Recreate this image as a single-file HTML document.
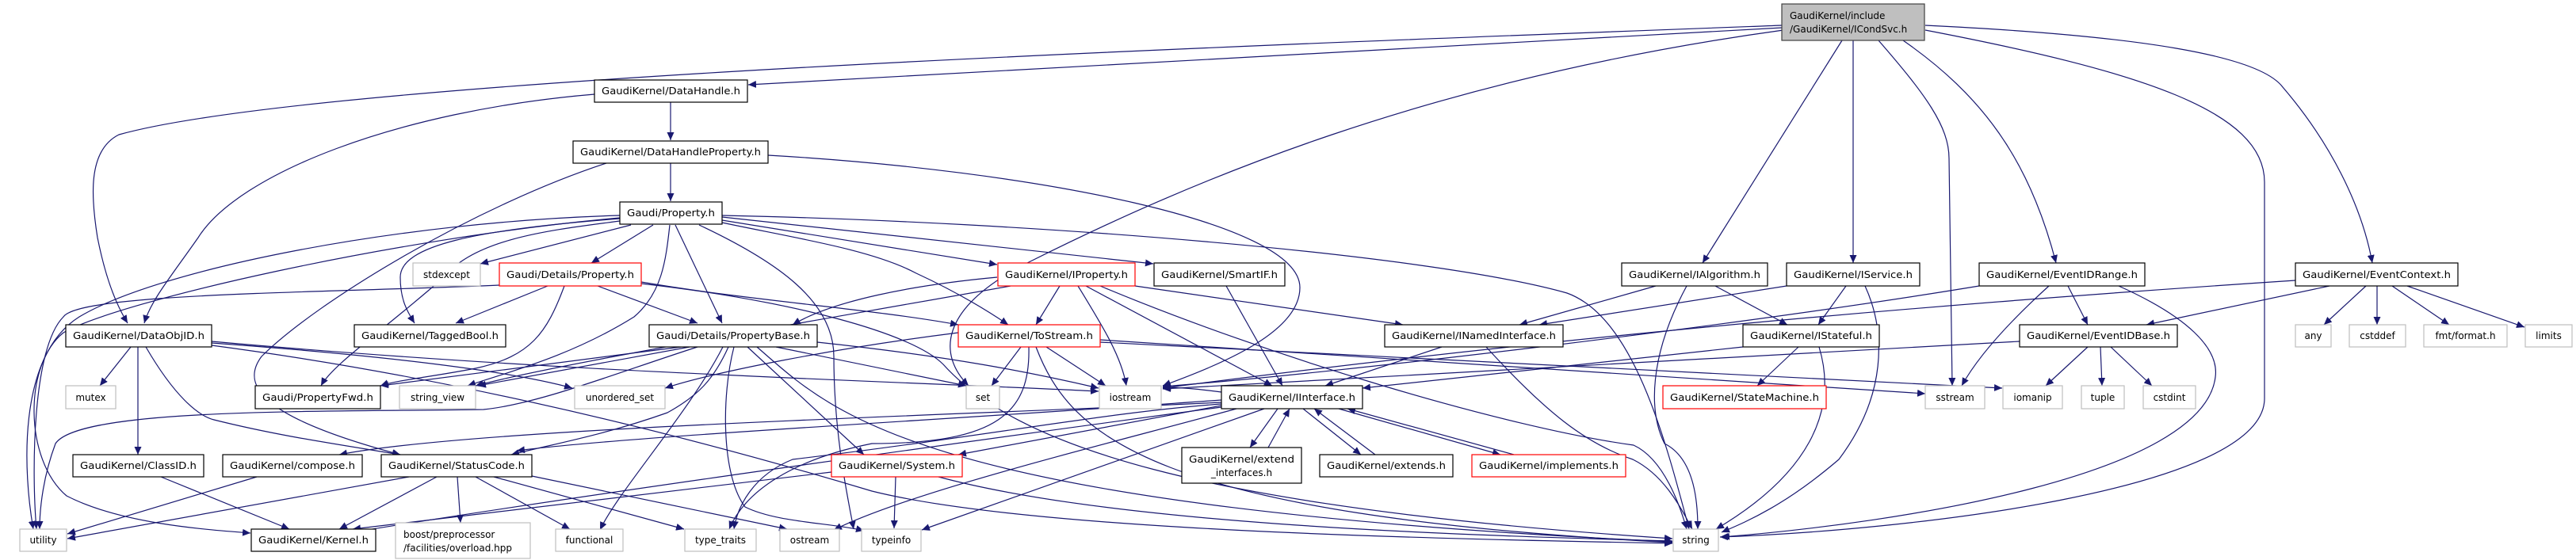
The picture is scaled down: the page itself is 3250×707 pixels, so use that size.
<!DOCTYPE html>
<html><head><meta charset="utf-8"><style>
html,body{margin:0;padding:0;background:#fff;}
svg{display:block;}
text{font-family:"DejaVu Sans","Liberation Sans",sans-serif;font-size:12px;fill:#000;}
.b{fill:#fff;stroke:#000;stroke-width:1.2;}
.r{fill:#fff;stroke:#ff0000;stroke-width:1.2;}
.g{fill:#fff;stroke:#bfbfbf;stroke-width:1.2;}
.e path{fill:none;stroke:#191970;stroke-width:1.2;}
</style></head><body>
<svg width="3250" height="707" viewBox="0 0 3250 707" xmlns="http://www.w3.org/2000/svg">
<defs><marker id="a" markerWidth="11" markerHeight="9" refX="10" refY="4.5" orient="auto" markerUnits="userSpaceOnUse"><path d="M0,0 L10,4.5 L0,9 z" fill="#191970"/></marker></defs>
<g class="e" marker-end="url(#a)">
<path marker-end="url(#a)" d="M2248,32 C1500,60 400,100 150,170 C110,190 115,250 123,300 C135,360 150,390 161,408"/>
<path marker-end="url(#a)" d="M2248,35 L944,107"/>
<path marker-end="url(#a)" d="M2250,38 C1800,100 1500,230 1300,330 C1180,390 1185,450 1222,487"/>
<path marker-end="url(#a)" d="M2324,51 L2148,332"/>
<path marker-end="url(#a)" d="M2338,51 L2338,332"/>
<path marker-end="url(#a)" d="M2370,51 C2430,120 2459,160 2459,200 L2463,487"/>
<path marker-end="url(#a)" d="M2401,51 C2500,120 2560,200 2594,332"/>
<path marker-end="url(#a)" d="M2429,38 C2700,90 2857,140 2857,230 L2857,503 C2857,620 2400,670 2170,678"/>
<path marker-end="url(#a)" d="M2429,32 C2700,45 2850,70 2880,110 C2940,180 2980,260 2993,332"/>
<path marker-end="url(#a)" d="M846,128 L846,177"/>
<path marker-end="url(#a)" d="M750,119 C500,140 300,220 250,300 C215,350 190,380 182,408"/>
<path marker-end="url(#a)" d="M846,206 L846,254"/>
<path marker-end="url(#a)" d="M765,206 C600,260 400,380 330,450 C300,490 340,530 505,574"/>
<path marker-end="url(#a)" d="M969,196 C1300,215 1640,280 1640,363 C1640,420 1540,460 1467,487"/>
<path marker-end="url(#a)" d="M796,284 L606,333"/>
<path marker-end="url(#a)" d="M824,284 L746,332"/>
<path marker-end="url(#a)" d="M782,276 C600,290 505,310 505,350 C505,380 515,395 523,408"/>
<path marker-end="url(#a)" d="M782,279 C700,290 600,300 560,350 C480,420 420,460 405,487"/>
<path marker-end="url(#a)" d="M845,284 C840,330 835,370 800,400 C720,450 640,470 590,487"/>
<path marker-end="url(#a)" d="M852,284 L911,408"/>
<path marker-end="url(#a)" d="M882,284 C980,330 1052,380 1052,450 C1052,550 1070,630 1077,668"/>
<path marker-end="url(#a)" d="M782,272 C500,280 200,340 100,400 C20,450 30,600 42,668"/>
<path marker-end="url(#a)" d="M782,275 C500,300 150,380 80,420 C30,460 30,580 84,626 C150,660 250,668 316,673"/>
<path marker-end="url(#a)" d="M911,278 L1258,334"/>
<path marker-end="url(#a)" d="M911,274 L1455,333"/>
<path marker-end="url(#a)" d="M911,281 C1000,300 1100,315 1156,345 C1210,370 1250,395 1272,410"/>
<path marker-end="url(#a)" d="M911,272 C1300,280 1800,320 1977,370 C2060,400 2100,550 2131,668"/>
<path marker-end="url(#a)" d="M691,361 L575,408"/>
<path marker-end="url(#a)" d="M754,361 L880,408"/>
<path marker-end="url(#a)" d="M712,361 C690,420 670,450 600,465 C550,475 500,480 480,487"/>
<path marker-end="url(#a)" d="M630,360 C400,370 100,370 80,400 C40,440 40,600 46,668"/>
<path marker-end="url(#a)" d="M809,356 C950,380 1100,390 1209,410"/>
<path marker-end="url(#a)" d="M809,358 C1000,380 1150,420 1190,460 C1280,560 1500,640 2110,680"/>
<path marker-end="url(#a)" d="M859,438 L480,487"/>
<path marker-end="url(#a)" d="M870,438 L603,487"/>
<path marker-end="url(#a)" d="M880,438 C780,470 680,510 610,517 C400,520 100,515 70,560 C55,600 50,640 50,668"/>
<path marker-end="url(#a)" d="M919,438 C900,480 880,500 842,521 C760,550 700,560 645,574"/>
<path marker-end="url(#a)" d="M912,438 C870,520 780,620 757,669"/>
<path marker-end="url(#a)" d="M926,438 C910,500 910,600 940,640 C980,660 1050,660 1090,670"/>
<path marker-end="url(#a)" d="M943,438 L1090,574"/>
<path marker-end="url(#a)" d="M979,438 L1219,487"/>
<path marker-end="url(#a)" d="M1031,432 C1200,450 1300,470 1386,490"/>
<path marker-end="url(#a)" d="M955,438 C1050,520 1150,640 2110,684"/>
<path marker-end="url(#a)" d="M1288,438 L1251,487"/>
<path marker-end="url(#a)" d="M1320,438 L1395,487"/>
<path marker-end="url(#a)" d="M1209,420 C1050,440 900,470 839,490"/>
<path marker-end="url(#a)" d="M1388,429 L2429,497"/>
<path marker-end="url(#a)" d="M1388,432 L2526,490"/>
<path marker-end="url(#a)" d="M1307,438 C1350,550 1450,650 2110,685"/>
<path marker-end="url(#a)" d="M1298,438 C1300,520 1260,560 1100,560 C1000,580 940,620 920,668"/>
<path marker-end="url(#a)" d="M165,438 L126,487"/>
<path marker-end="url(#a)" d="M174,438 L174,574"/>
<path marker-end="url(#a)" d="M184,438 C220,500 250,525 270,530 C350,550 420,560 505,574"/>
<path marker-end="url(#a)" d="M267,433 C500,450 650,470 722,490"/>
<path marker-end="url(#a)" d="M267,431 C700,470 1100,480 1386,494"/>
<path marker-end="url(#a)" d="M267,436 C600,480 900,560 1100,620 C1300,670 1800,680 2110,686"/>
<path marker-end="url(#a)" d="M203,602 L365,668"/>
<path marker-end="url(#a)" d="M324,602 L85,674"/>
<path marker-end="url(#a)" d="M516,602 L85,680"/>
<path marker-end="url(#a)" d="M551,602 L428,668"/>
<path marker-end="url(#a)" d="M577,602 L581,660"/>
<path marker-end="url(#a)" d="M600,602 L719,668"/>
<path marker-end="url(#a)" d="M623,602 L863,668"/>
<path marker-end="url(#a)" d="M671,601 L993,668"/>
<path marker-end="url(#a)" d="M1049,596 L445,668"/>
<path marker-end="url(#a)" d="M1130,602 L1128,667"/>
<path marker-end="url(#a)" d="M1184,602 C1400,660 1800,675 2110,683"/>
<path marker-end="url(#a)" d="M1337,361 L1307,410"/>
<path marker-end="url(#a)" d="M1360,361 C1390,410 1415,450 1421,487"/>
<path marker-end="url(#a)" d="M1370,361 L1605,487"/>
<path marker-end="url(#a)" d="M1432,361 L1770,410"/>
<path marker-end="url(#a)" d="M1388,361 C1600,450 1900,540 2061,562 C2100,580 2120,640 2128,668"/>
<path marker-end="url(#a)" d="M1258,350 C1150,360 1050,380 1000,410"/>
<path marker-end="url(#a)" d="M1275,361 C1000,410 700,460 600,487"/>
<path marker-end="url(#a)" d="M1547,361 L1618,487"/>
<path marker-end="url(#a)" d="M1819,438 L1672,487"/>
<path marker-end="url(#a)" d="M1875,438 C1950,520 2000,560 2060,580 C2100,600 2120,640 2135,668"/>
<path marker-end="url(#a)" d="M2089,361 L1917,410"/>
<path marker-end="url(#a)" d="M2164,361 L2255,410"/>
<path marker-end="url(#a)" d="M2128,361 C2080,450 2080,520 2100,560 C2140,580 2142,640 2142,668"/>
<path marker-end="url(#a)" d="M2254,361 L1942,410"/>
<path marker-end="url(#a)" d="M2329,361 L2294,410"/>
<path marker-end="url(#a)" d="M2353,361 C2380,420 2380,500 2320,580 C2250,640 2200,660 2172,672"/>
<path marker-end="url(#a)" d="M2199,438 L1719,490"/>
<path marker-end="url(#a)" d="M2269,438 L2217,487"/>
<path marker-end="url(#a)" d="M2295,438 C2320,520 2280,600 2165,668"/>
<path marker-end="url(#a)" d="M2497,361 C2200,410 1700,470 1467,488"/>
<path marker-end="url(#a)" d="M2585,361 C2520,420 2490,460 2475,487"/>
<path marker-end="url(#a)" d="M2609,361 L2634,410"/>
<path marker-end="url(#a)" d="M2673,361 C2760,400 2800,440 2795,476 C2780,600 2400,660 2172,678"/>
<path marker-end="url(#a)" d="M2896,354 C2500,380 2000,420 1467,490"/>
<path marker-end="url(#a)" d="M2939,361 L2708,410"/>
<path marker-end="url(#a)" d="M2985,361 L2932,410"/>
<path marker-end="url(#a)" d="M2999,361 L2999,410"/>
<path marker-end="url(#a)" d="M3018,361 L3090,410"/>
<path marker-end="url(#a)" d="M3037,361 L3185,413"/>
<path marker-end="url(#a)" d="M2548,431 L1467,491"/>
<path marker-end="url(#a)" d="M2634,438 L2581,487"/>
<path marker-end="url(#a)" d="M2650,438 L2652,487"/>
<path marker-end="url(#a)" d="M2663,438 L2715,487"/>
<path marker-end="url(#a)" d="M1612,516 L1577,565"/>
<path marker-end="url(#a)" d="M1600,565 L1627,516"/>
<path marker-end="url(#a)" d="M1644,516 L1717,574"/>
<path marker-end="url(#a)" d="M1735,574 L1658,516"/>
<path marker-end="url(#a)" d="M1689,516 L1893,574"/>
<path marker-end="url(#a)" d="M1910,574 L1700,516"/>
<path marker-end="url(#a)" d="M1595,516 L1163,669"/>
<path marker-end="url(#a)" d="M1541,512 L1209,574"/>
<path marker-end="url(#a)" d="M1541,505 C1200,530 800,550 652,569"/>
<path marker-end="url(#a)" d="M1541,508 C1200,525 600,540 428,574"/>
<path marker-end="url(#a)" d="M1541,514 C1200,560 700,630 445,672"/>
<path marker-end="url(#a)" d="M1541,510 C1400,520 1250,550 1000,580 C950,600 930,640 926,668"/>
<path marker-end="url(#a)" d="M1560,516 C1400,560 1150,620 1052,669"/>
<path marker-end="url(#a)" d="M1541,495 C1510,491 1490,489 1467,489"/>
</g>
<!-- root -->
<rect x="2248" y="5" width="180" height="46" fill="#bfbfbf" stroke="#404040" stroke-width="1.2"/>
<text x="2258" y="24">GaudiKernel/include</text>
<text x="2258" y="41">/GaudiKernel/ICondSvc.h</text>
<!-- black nodes -->
<rect class="b" x="750" y="101" width="193" height="28"/><text x="846.5" y="119" text-anchor="middle" textLength="175" lengthAdjust="spacingAndGlyphs">GaudiKernel/DataHandle.h</text>
<rect class="b" x="723" y="178" width="246" height="28"/><text x="846" y="196" text-anchor="middle" textLength="228" lengthAdjust="spacingAndGlyphs">GaudiKernel/DataHandleProperty.h</text>
<rect class="b" x="782" y="255" width="129" height="28"/><text x="846.5" y="273" text-anchor="middle" textLength="111" lengthAdjust="spacingAndGlyphs">Gaudi/Property.h</text>
<rect class="b" x="83" y="410" width="184" height="28"/><text x="175" y="428" text-anchor="middle" textLength="166" lengthAdjust="spacingAndGlyphs">GaudiKernel/DataObjID.h</text>
<rect class="b" x="447" y="410" width="191" height="28"/><text x="542.5" y="428" text-anchor="middle" textLength="173" lengthAdjust="spacingAndGlyphs">GaudiKernel/TaggedBool.h</text>
<rect class="b" x="819" y="410" width="212" height="28"/><text x="925" y="428" text-anchor="middle" textLength="194" lengthAdjust="spacingAndGlyphs">Gaudi/Details/PropertyBase.h</text>
<rect class="b" x="322" y="487" width="158" height="29"/><text x="401" y="506" text-anchor="middle" textLength="140" lengthAdjust="spacingAndGlyphs">Gaudi/PropertyFwd.h</text>
<rect class="b" x="92" y="574" width="165" height="28"/><text x="174.5" y="592" text-anchor="middle" textLength="147" lengthAdjust="spacingAndGlyphs">GaudiKernel/ClassID.h</text>
<rect class="b" x="281" y="574" width="176" height="28"/><text x="369" y="592" text-anchor="middle" textLength="158" lengthAdjust="spacingAndGlyphs">GaudiKernel/compose.h</text>
<rect class="b" x="481" y="574" width="190" height="28"/><text x="576" y="592" text-anchor="middle" textLength="172" lengthAdjust="spacingAndGlyphs">GaudiKernel/StatusCode.h</text>
<rect class="b" x="317" y="668" width="157" height="28"/><text x="395.5" y="686" text-anchor="middle" textLength="139" lengthAdjust="spacingAndGlyphs">GaudiKernel/Kernel.h</text>
<rect class="b" x="1456" y="332" width="165" height="29"/><text x="1538.5" y="351" text-anchor="middle" textLength="147" lengthAdjust="spacingAndGlyphs">GaudiKernel/SmartIF.h</text>
<rect class="b" x="2046" y="332" width="184" height="29"/><text x="2138" y="351" text-anchor="middle" textLength="166" lengthAdjust="spacingAndGlyphs">GaudiKernel/IAlgorithm.h</text>
<rect class="b" x="1747" y="410" width="225" height="28"/><text x="1859.5" y="428" text-anchor="middle" textLength="207" lengthAdjust="spacingAndGlyphs">GaudiKernel/INamedInterface.h</text>
<rect class="b" x="1541" y="487" width="178" height="29"/><text x="1630" y="506" text-anchor="middle" textLength="160" lengthAdjust="spacingAndGlyphs">GaudiKernel/IInterface.h</text>
<rect class="b" x="1491" y="565" width="151" height="45"/><text x="1566.5" y="584" text-anchor="middle" textLength="133" lengthAdjust="spacingAndGlyphs">GaudiKernel/extend</text><text x="1566.5" y="601" text-anchor="middle">_interfaces.h</text>
<rect class="b" x="1665" y="574" width="168" height="28"/><text x="1749" y="592" text-anchor="middle" textLength="150" lengthAdjust="spacingAndGlyphs">GaudiKernel/extends.h</text>
<rect class="b" x="2254" y="332" width="168" height="29"/><text x="2338" y="351" text-anchor="middle" textLength="150" lengthAdjust="spacingAndGlyphs">GaudiKernel/IService.h</text>
<rect class="b" x="2497" y="332" width="209" height="29"/><text x="2601.5" y="351" text-anchor="middle" textLength="191" lengthAdjust="spacingAndGlyphs">GaudiKernel/EventIDRange.h</text>
<rect class="b" x="2896" y="332" width="205" height="29"/><text x="2998.5" y="351" text-anchor="middle" textLength="187" lengthAdjust="spacingAndGlyphs">GaudiKernel/EventContext.h</text>
<rect class="b" x="2199" y="410" width="172" height="28"/><text x="2285" y="428" text-anchor="middle" textLength="154" lengthAdjust="spacingAndGlyphs">GaudiKernel/IStateful.h</text>
<rect class="b" x="2548" y="410" width="199" height="28"/><text x="2647.5" y="428" text-anchor="middle" textLength="181" lengthAdjust="spacingAndGlyphs">GaudiKernel/EventIDBase.h</text>
<!-- red nodes -->
<rect class="r" x="630" y="332" width="179" height="29"/><text x="719.5" y="351" text-anchor="middle" textLength="161" lengthAdjust="spacingAndGlyphs">Gaudi/Details/Property.h</text>
<rect class="r" x="1259" y="332" width="173" height="29"/><text x="1345.5" y="351" text-anchor="middle" textLength="155" lengthAdjust="spacingAndGlyphs">GaudiKernel/IProperty.h</text>
<rect class="r" x="1209" y="410" width="179" height="28"/><text x="1298.5" y="428" text-anchor="middle" textLength="161" lengthAdjust="spacingAndGlyphs">GaudiKernel/ToStream.h</text>
<rect class="r" x="1049" y="574" width="165" height="28"/><text x="1131.5" y="592" text-anchor="middle" textLength="147" lengthAdjust="spacingAndGlyphs">GaudiKernel/System.h</text>
<rect class="r" x="1857" y="574" width="194" height="28"/><text x="1954" y="592" text-anchor="middle" textLength="176" lengthAdjust="spacingAndGlyphs">GaudiKernel/implements.h</text>
<rect class="r" x="2098" y="487" width="206" height="29"/><text x="2201" y="506" text-anchor="middle" textLength="188" lengthAdjust="spacingAndGlyphs">GaudiKernel/StateMachine.h</text>
<!-- gray nodes -->
<rect class="g" x="521" y="332" width="85" height="29"/><text x="563.5" y="351" text-anchor="middle">stdexcept</text>
<rect class="g" x="83" y="487" width="63" height="29"/><text x="114.5" y="506" text-anchor="middle">mutex</text>
<rect class="g" x="504" y="487" width="96" height="29"/><text x="552" y="506" text-anchor="middle">string_view</text>
<rect class="g" x="725" y="487" width="114" height="29"/><text x="782" y="506" text-anchor="middle">unordered_set</text>
<rect class="g" x="25" y="668" width="59" height="28"/><text x="54.5" y="686" text-anchor="middle">utility</text>
<rect class="g" x="499" y="660" width="170" height="45"/><text x="509" y="679">boost/preprocessor</text><text x="509" y="696">/facilities/overload.hpp</text>
<rect class="g" x="701" y="668" width="85" height="28"/><text x="743.5" y="686" text-anchor="middle">functional</text>
<rect class="g" x="864" y="668" width="90" height="28"/><text x="909" y="686" text-anchor="middle">type_traits</text>
<rect class="g" x="984" y="668" width="75" height="28"/><text x="1021.5" y="686" text-anchor="middle">ostream</text>
<rect class="g" x="1087" y="668" width="75" height="28"/><text x="1124.5" y="686" text-anchor="middle">typeinfo</text>
<rect class="g" x="1219" y="487" width="42" height="29"/><text x="1240" y="506" text-anchor="middle">set</text>
<rect class="g" x="1387" y="487" width="78" height="29"/><text x="1426" y="506" text-anchor="middle">iostream</text>
<rect class="g" x="2111" y="668" width="57" height="28"/><text x="2139.5" y="686" text-anchor="middle">string</text>
<rect class="g" x="2429" y="487" width="75" height="29"/><text x="2466.5" y="506" text-anchor="middle">sstream</text>
<rect class="g" x="2527" y="487" width="75" height="29"/><text x="2564.5" y="506" text-anchor="middle">iomanip</text>
<rect class="g" x="2626" y="487" width="54" height="29"/><text x="2653" y="506" text-anchor="middle">tuple</text>
<rect class="g" x="2704" y="487" width="66" height="29"/><text x="2737" y="506" text-anchor="middle">cstdint</text>
<rect class="g" x="2896" y="410" width="45" height="28"/><text x="2918.5" y="428" text-anchor="middle">any</text>
<rect class="g" x="2964" y="410" width="71" height="28"/><text x="2999.5" y="428" text-anchor="middle">cstddef</text>
<rect class="g" x="3058" y="410" width="105" height="28"/><text x="3110.5" y="428" text-anchor="middle">fmt/format.h</text>
<rect class="g" x="3186" y="410" width="59" height="28"/><text x="3215.5" y="428" text-anchor="middle">limits</text>
</svg>
</body></html>
